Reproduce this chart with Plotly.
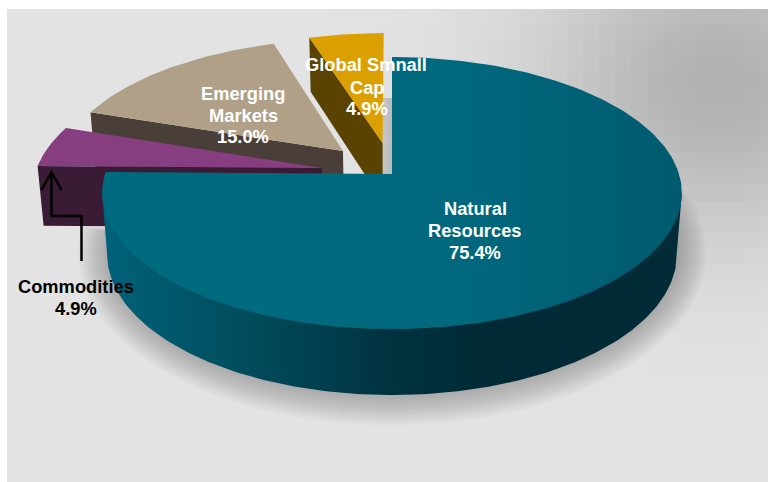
import numpy as np
import plotly.graph_objects as go

# Portfolio allocation, clockwise from twelve o'clock
CATEGORIES = ["Natural Resources", "Commodities", "Emerging Markets", "Global Smnall Cap"]
VALUES = [75.4, 4.9, 15.0, 4.9]

# Per-slice appearance: sideways/back displacement on the disc, top and cut-face colours
EXPLODE = [(0.0, 0.0), (-0.2455, 0.045), (-0.175, 0.1767), (-0.034, 0.24)]
TOP_COLORS = [None, "#873e81", "#b0a088", "#dc9f00"]
WALL_COLORS = [None, "#3a1b35", "#4a3f38", "#5a4300"]

# Label text lines with their centre positions on the page
LABELS = [
    ("Natural", 475, 208, "white"), ("Resources", 475, 230, "white"), ("75.4%", 475, 252, "white"),
    ("Emerging", 243, 93, "white"), ("Markets", 243, 115, "white"), ("15.0%", 243, 136, "white"),
    ("Global Smnall", 366, 64, "white"), ("Cap", 367, 87, "white"), ("4.9%", 367, 108, "white"),
    ("Commodities", 76, 286, "black"), ("4.9%", 76, 308, "black"),
]

# Perspective camera for the tilted disc
CX, CY = 392.0, 174.0
RX, RY, K = 287.0, 133.4, 0.14
SHRINK = 0.983
W, H = 768, 482


def project(theta, shift=(0.0, 0.0), r=1.0):
    """Project disc points at clockwise angles theta (degrees) onto the page."""
    t = np.radians(theta)
    u = r * np.sin(t) + shift[0]
    v = r * np.cos(t) + shift[1]
    d = 1 + K * v
    return CX + RX * u / d, CY - RY * v / d, v


def lower(x, y, v):
    """Same points on the underside of the disc."""
    return CX + (x - CX) * SHRINK, y + 60.0 / (1 + 0.09 * v)


def poly(x, y, color=None, gradient=None):
    kw = dict(fillgradient=gradient) if gradient else dict(fillcolor=color)
    return go.Scatter(x=list(x), y=list(y), mode="lines", fill="toself", line=dict(width=0),
                      hoverinfo="skip", showlegend=False, **kw)


total = sum(VALUES)
edges = np.cumsum([0] + VALUES) / total * 360
fig = go.Figure()

# Backdrop panel with a soft dark glow in the upper right
cell = 16
xs = 7 + cell * (np.arange(48) + 0.5)
ys = 9 + cell * (np.arange(30) + 0.5)
gx, gy = np.meshgrid(xs, ys)
glow = 50 * np.exp(-((gx - 720) ** 2 / (2 * 130 ** 2) + (gy - 85) ** 2 / (2 * 110 ** 2)))
fig.add_trace(go.Heatmap(x=xs, y=ys, z=227 - glow, zmin=0, zmax=255, showscale=False,
                         colorscale=[[0, "#000000"], [1, "#ffffff"]], hoverinfo="skip"))

# Soft shadow under the large slice
sweep = np.linspace(edges[0], edges[1], 240)
sx, sy, sv = project(sweep)
bx, by = lower(sx, sy, sv)
ecy = 193.0 + 63.0
for grow in range(2, 32, 2):
    fx = CX + (bx - CX) * (290 + grow) / 290
    fy = ecy + (by - ecy) * (136 + grow) / 136
    fig.add_trace(poly(np.r_[fx, CX], np.r_[fy, CY + 60], "rgba(0,0,0,0.014)"))

# Shade in the gap beside the large slice
fig.add_trace(poly([382, 392.5, 392.5, 382], [98, 98, 175, 175], gradient=dict(
    type="horizontal", start=382, stop=392.5,
    colorscale=[[0, "rgba(170,170,170,0.5)"], [1, "rgba(170,170,170,0.7)"]])))

# Exploded slices, farthest first
for i in (3, 2, 1):
    shift = EXPLODE[i]
    a0, a1 = edges[i], edges[i + 1]
    apex_x, apex_y, apex_v = project(np.array([0.0]), shift, r=0.0)
    rim_x, rim_y, rim_v = project(np.array([a0]), shift)
    ex = np.r_[apex_x, rim_x]
    ey = np.r_[apex_y, rim_y]
    ev = np.r_[apex_v, rim_v]
    lx, ly = lower(ex, ey, ev)
    fig.add_trace(poly(np.r_[ex, lx[::-1]], np.r_[ey, ly[::-1]], WALL_COLORS[i]))
    th = np.linspace(a0, a1, 40)
    tx, ty, _ = project(th, shift)
    fig.add_trace(poly(np.r_[apex_x, tx], np.r_[apex_y, ty], TOP_COLORS[i]))

# Large slice: outer wall between the silhouette points of the rim, then top face
th = np.linspace(98, 262, 200)
tx, ty, tv = project(th)
lx, ly = lower(tx, ty, tv)
fig.add_trace(poly(np.r_[tx[0], lx, tx[-1]], np.r_[ty[0], ly, ty[-1]], gradient=dict(
    type="horizontal", start=100, stop=690,
    colorscale=[[0, "#00627a"], [0.22, "#004f60"], [0.5, "#00323f"], [0.66, "#002a36"], [1, "#002b37"]])))
th = np.linspace(edges[0], edges[1], 300)
tx, ty, _ = project(th)
fig.add_trace(poly(np.r_[CX, tx], np.r_[CY, ty], gradient=dict(
    type="horizontal", start=100, stop=690,
    colorscale=[[0, "#006b80"], [0.6, "#00697e"], [0.85, "#005f74"], [1, "#005a6d"]])))

# Leader from the Commodities label to its slice
leader = dict(type="path", line=dict(color="black", width=2.5),
              path="M 81.5 261 L 81.5 216 L 51.5 216 L 51.5 172 M 41.5 190 L 51.5 172 L 61.5 190")
annotations = [dict(x=x, y=y, text=f"<b>{t}</b>", showarrow=False, xanchor="center", yanchor="middle",
                    font=dict(family="Liberation Sans", size=18.3, color=c))
               for t, x, y, c in LABELS]

fig.update_layout(
    width=W, height=H, margin=dict(l=0, r=0, t=0, b=0), showlegend=False,
    paper_bgcolor="white", plot_bgcolor="white",
    xaxis=dict(range=[0, W], visible=False, fixedrange=True),
    yaxis=dict(range=[H, 0], visible=False, fixedrange=True),
    shapes=[leader], annotations=annotations,
)
fig.write_html("out.html", config=dict(displayModeBar=False))
